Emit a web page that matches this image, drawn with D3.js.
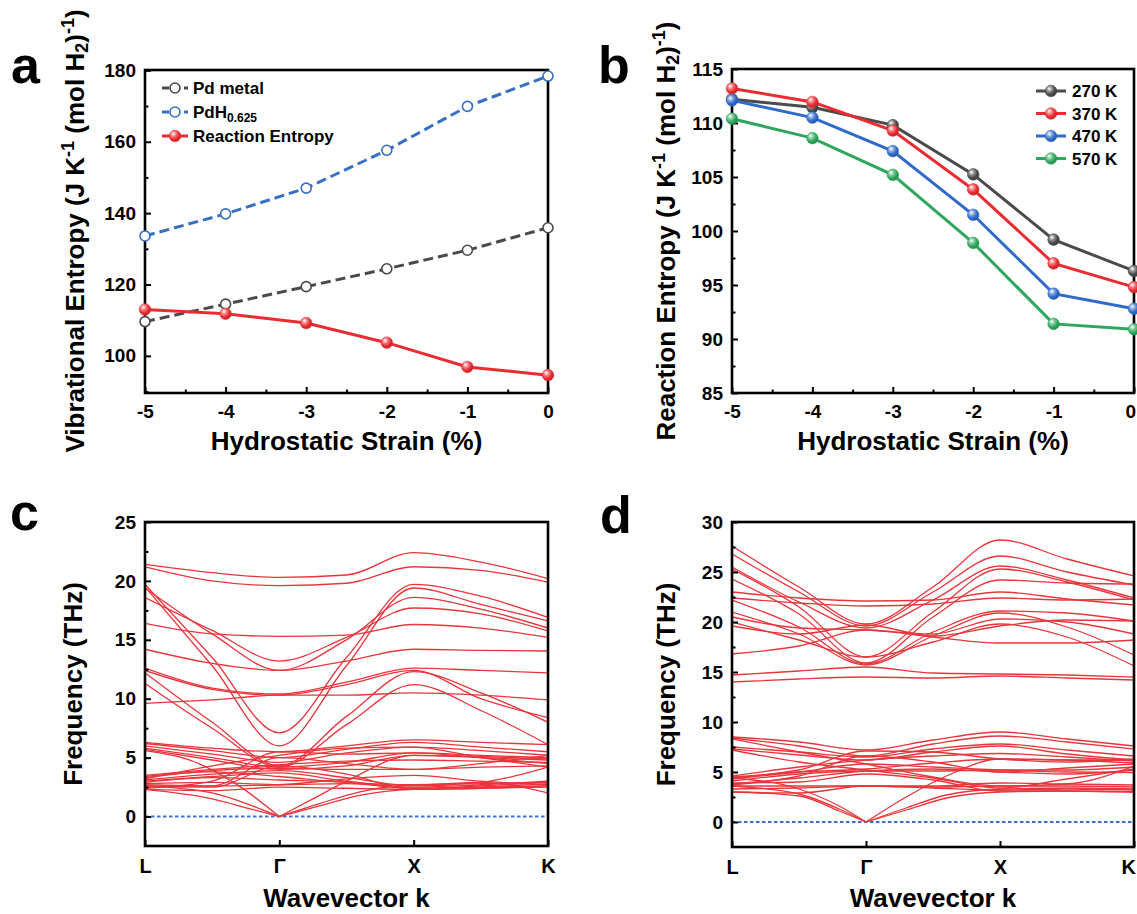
<!DOCTYPE html>
<html><head><meta charset="utf-8">
<script src="https://cdn.jsdelivr.net/npm/d3@7"></script>
<style>
body{margin:0;background:#fff}
svg{display:block}
text{font-family:"Liberation Sans",Arial,Helvetica,sans-serif;font-weight:bold;fill:#000}
</style>
</head><body>
<svg id="chart" width="1137" height="914"></svg>
<script>
// ---------------- DATA ----------------
const strain = [-5, -4, -3, -2, -1, 0];
const strainTicks = [-5, -4, -3, -2, -1, 0];
// panel a
const pdMetal = [109.6, 114.5, 119.4, 124.4, 129.6, 135.9];
const pdH = [133.6, 139.8, 147.0, 157.6, 169.9, 178.4];
const reactionEntropy = [113.0, 111.8, 109.2, 103.7, 96.9, 94.6];
const aYTicks = [100, 120, 140, 160, 180];
const aLegend = ["Pd metal", "PdH", "Reaction Entropy"];
// panel b
const tempLabels = ["270 K", "370 K", "470 K", "570 K"];
const s270 = [112.2, 111.45, 109.8, 105.24, 99.2, 96.3];
const s370 = [113.2, 111.95, 109.3, 103.85, 97.0, 94.8];
const s470 = [112.1, 110.5, 107.4, 101.5, 94.2, 92.8];
const s570 = [110.4, 108.6, 105.2, 98.9, 91.4, 90.9];
const bYTicks = [85, 90, 95, 100, 105, 110, 115];
// panels c, d (phonon bands)
const kLabels = ["L", "\u0393", "X", "K"];
const kNodes = [0, 0.5, 1, 1.5, 2, 2.5, 3];
const cYTicks = [0, 5, 10, 15, 20, 25];
const dYTicks = [0, 5, 10, 15, 20, 25, 30];
const bandsC = [
  [21.4, 20.7, 20.3, 20.5, 22.4, 21.6, 20.2],
  [21.2, 20.0, 19.6, 19.8, 21.2, 20.9, 19.9],
  [19.7, 13.5, 7.1, 13.5, 19.7, 18.7, 16.9],
  [19.5, 12.8, 6.0, 12.8, 19.4, 18.0, 16.6],
  [19.4, 15.5, 12.4, 15.0, 18.6, 17.6, 16.0],
  [18.6, 15.8, 13.2, 15.2, 17.7, 17.2, 15.75],
  [16.4, 15.5, 15.3, 15.4, 16.3, 16.0, 15.2],
  [14.2, 13.0, 12.4, 13.2, 14.2, 14.1, 14.05],
  [12.6, 10.9, 10.4, 11.4, 12.6, 12.4, 12.2],
  [12.4, 10.8, 10.3, 11.2, 12.4, 10.0, 8.4],
  [12.2, 8.0, 4.3, 8.5, 12.3, 10.5, 8.0],
  [11.3, 7.5, 4.2, 7.8, 11.2, 9.0, 6.1],
  [9.6, 9.9, 10.3, 10.3, 10.5, 10.3, 9.9],
  [6.3, 5.8, 5.5, 6.0, 6.5, 6.3, 6.1],
  [6.2, 5.6, 5.0, 5.7, 6.3, 5.9, 5.5],
  [6.0, 5.3, 4.6, 5.4, 5.9, 5.6, 5.2],
  [5.8, 5.0, 4.2, 4.6, 5.4, 5.2, 5.0],
  [5.7, 4.8, 4.0, 4.3, 5.2, 5.0, 4.8],
  [3.5, 4.0, 4.4, 4.7, 4.8, 4.7, 4.6],
  [3.3, 3.9, 4.1, 4.0, 4.0, 4.2, 4.3],
  [3.1, 3.6, 3.9, 3.3, 2.6, 2.9, 4.2],
  [3.0, 3.4, 3.7, 3.0, 2.5, 2.7, 3.0],
  [2.9, 3.3, 3.1, 2.9, 2.4, 2.6, 2.9],
  [2.8, 2.9, 2.7, 2.8, 2.4, 2.5, 2.8],
  [2.7, 2.6, 2.7, 3.2, 3.5, 3.0, 2.7],
  [2.6, 2.5, 4.3, 3.6, 2.3, 2.5, 2.6],
  [2.5, 2.6, 5.0, 4.5, 4.0, 4.5, 5.2],
  [2.4, 3.0, 5.5, 5.3, 5.4, 5.0, 4.5],
  [2.3, 2.2, 2.5, 2.4, 2.3, 2.4, 2.5],
  [3.4, 3.8, 3.4, 2.9, 2.7, 2.9, 2.0],
  [3.2, 4.3, 5.2, 5.8, 5.9, 5.0, 4.2]
];
const acousticC = [
  [[0, 2.3], [0.5, 1.5], [0.8, 0.6], [1, 0]],
  [[0, 2.6], [0.5, 2.0], [0.8, 0.9], [1, 0]],
  [[0, 5.6], [0.4, 4.5], [0.7, 2.6], [1, 0]],
  [[1, 0], [1.3, 0.9], [1.6, 1.8], [2, 2.3], [2.5, 2.4], [3, 2.6]],
  [[1, 0], [1.3, 1.1], [1.6, 2.1], [2, 2.7], [2.5, 2.8], [3, 2.9]],
  [[1, 0], [1.25, 1.5], [1.5, 3.0], [2, 5.2], [2.5, 5.1], [3, 4.9]]
];
const bandsD = [
  [27.6, 23.5, 19.8, 23.5, 28.2, 26.3, 24.6],
  [26.8, 23.0, 19.6, 23.0, 26.6, 25.0, 23.7],
  [25.5, 22.0, 19.4, 22.2, 25.6, 24.2, 22.4],
  [25.3, 21.5, 16.5, 21.0, 25.3, 24.0, 22.2],
  [24.3, 20.8, 15.9, 20.5, 24.2, 23.9, 23.8],
  [23.0, 22.4, 22.1, 22.2, 23.0, 22.3, 21.7],
  [22.4, 21.9, 21.6, 21.8, 22.4, 22.2, 22.3],
  [22.2, 19.5, 15.8, 19.0, 21.1, 20.9, 20.1],
  [21.0, 18.8, 15.7, 18.6, 20.9, 19.5, 16.7],
  [20.5, 19.4, 19.2, 18.8, 20.3, 20.0, 18.8],
  [20.0, 18.2, 16.5, 18.0, 19.8, 18.5, 15.6],
  [19.6, 18.8, 19.7, 18.6, 19.6, 20.2, 20.1],
  [16.8, 17.6, 19.2, 18.5, 17.9, 17.9, 18.2],
  [14.7, 15.1, 15.5, 14.9, 14.8, 14.7, 14.5],
  [14.0, 14.3, 14.5, 14.4, 14.6, 14.4, 14.2],
  [8.5, 8.0, 7.2, 8.2, 9.0, 8.3, 7.6],
  [8.4, 7.6, 6.6, 7.8, 8.6, 8.0, 7.3],
  [7.5, 7.0, 6.5, 7.3, 7.8, 7.2, 6.6],
  [7.3, 6.7, 6.2, 7.0, 7.6, 6.8, 6.2],
  [8.3, 7.0, 5.8, 4.5, 3.6, 3.8, 5.6],
  [7.2, 6.0, 5.2, 4.4, 3.4, 4.3, 5.3],
  [4.6, 5.5, 6.2, 6.6, 6.85, 6.5, 6.1],
  [4.4, 5.0, 5.3, 5.9, 6.3, 6.2, 5.9],
  [4.1, 4.8, 5.1, 5.1, 5.2, 5.2, 5.5],
  [3.8, 4.4, 5.1, 5.3, 5.0, 4.8, 5.2],
  [3.6, 3.6, 3.6, 3.6, 3.9, 3.8, 3.7],
  [3.3, 3.4, 3.6, 3.5, 3.6, 3.6, 3.5],
  [3.0, 2.9, 3.6, 3.4, 3.2, 3.3, 3.2],
  [4.3, 5.0, 5.8, 5.5, 5.2, 5.0, 4.95],
  [3.9, 4.0, 4.8, 4.2, 3.1, 3.1, 3.0],
  [3.7, 4.6, 6.6, 6.0, 5.0, 5.4, 5.8],
  [4.5, 5.2, 7.1, 7.0, 6.3, 6.0, 6.3]
];
const acousticD = [
  [[0, 3.6], [0.5, 2.8], [0.8, 1.3], [1, 0]],
  [[0, 3.0], [0.5, 2.6], [0.8, 1.1], [1, 0]],
  [[0, 4.4], [0.5, 3.3], [0.8, 1.6], [1, 0]],
  [[1, 0], [1.3, 1.2], [1.6, 2.4], [2, 3.0], [2.5, 3.1], [3, 3.0]],
  [[1, 0], [1.3, 1.4], [1.6, 2.7], [2, 3.3], [2.5, 3.4], [3, 3.3]],
  [[1, 0], [1.3, 2.5], [1.6, 4.6], [2, 6.3], [2.5, 6.2], [3, 6.2]]
];

// ---------------- STYLE ----------------
const COL = {gray: "#4a4a4a", blue: "#3570c4", red: "#ea2b31", blue2: "#2f6acb", green: "#2ea75c", band: "#e8353b", zero: "#3d6fc8"};
const FONT_TICK = 19, FONT_TITLE = 26, FONT_LETTER = 52;
const W = 1137;

const svg = d3.select("#chart");
const defs = svg.append("defs");

function ballGradient(id, color) {
  const g = defs.append("radialGradient").attr("id", id)
    .attr("cx", "38%").attr("cy", "35%").attr("r", "65%").attr("fx", "35%").attr("fy", "30%");
  g.append("stop").attr("offset", "0%").attr("stop-color", "#ffffff");
  g.append("stop").attr("offset", "35%").attr("stop-color", d3.interpolateRgb("#ffffff", color)(0.6));
  g.append("stop").attr("offset", "70%").attr("stop-color", color);
  g.append("stop").attr("offset", "100%").attr("stop-color", d3.color(color).darker(0.6));
}
ballGradient("g-red", COL.red);
ballGradient("g-gray", COL.gray);
ballGradient("g-blue", COL.blue2);
ballGradient("g-green", COL.green);

function frame(g, b) {
  g.append("rect").attr("x", b.x0).attr("y", b.y0).attr("width", b.x1 - b.x0).attr("height", b.y1 - b.y0)
    .attr("fill", "none").attr("stroke", "#000").attr("stroke-width", 2.6);
}
function styleAxis(sel) {
  sel.select(".domain").remove();
  sel.selectAll(".tick line").attr("stroke", "#000").attr("stroke-width", 2);
  sel.selectAll(".tick text").attr("font-size", FONT_TICK + "px").attr("fill", "#000")
     .style("font-family", '"Liberation Sans",Arial,sans-serif').style("font-weight", "bold");
}
// keep the right-most tick label inside the page
function fitRight(sel) {
  sel.selectAll(".tick").each(function() {
    const tr = this.getAttribute("transform");
    const xx = +tr.match(/translate\(([-\d.]+)/)[1];
    const t = d3.select(this).select("text");
    if (!t.empty() && xx > W - 8) t.attr("text-anchor", "end").attr("x", W - 1 - xx);
  });
}
function yAxes(g, y, b, major, minor) {
  g.append("g").attr("transform", `translate(${b.x0},0)`)
    .call(d3.axisLeft(y).tickValues(major).tickSize(-6).tickPadding(9)).call(styleAxis);
  g.append("g").attr("transform", `translate(${b.x0},0)`)
    .call(d3.axisLeft(y).tickValues(minor).tickSize(-3.5).tickFormat("")).call(styleAxis);
}
function xAxes(g, x, b, major, minor, fmt, pad, fs) {
  const ax = d3.axisBottom(x).tickValues(major).tickSize(-6).tickPadding(pad).tickFormat(fmt);
  const a = g.append("g").attr("transform", `translate(0,${b.y1})`).call(ax).call(styleAxis);
  if (fs) a.selectAll(".tick text").attr("font-size", fs + "px");
  a.call(fitRight);
  if (minor.length)
    g.append("g").attr("transform", `translate(0,${b.y1})`)
      .call(d3.axisBottom(x).tickValues(minor).tickSize(-3.5).tickFormat("")).call(styleAxis);
}
function yTitle(g, cx, cy, parts) {
  const t = g.append("text").attr("transform", `translate(${cx},${cy}) rotate(-90)`)
    .attr("text-anchor", "middle").attr("dy", "0.36em").attr("font-size", FONT_TITLE + "px");
  parts.forEach(p => {
    const s = t.append("tspan").text(p.t);
    if (p.sup) s.attr("font-size", "18px").attr("baseline-shift", "55%");
    if (p.sub) s.attr("font-size", "18px").attr("baseline-shift", "-22%");
  });
}
function xTitle(g, cx, y, txt) {
  g.append("text").attr("x", cx).attr("y", y).attr("text-anchor", "middle")
    .attr("font-size", FONT_TITLE + "px").text(txt);
}
function letter(g, x, y, l) {
  g.append("text").attr("x", x).attr("y", y).attr("font-size", FONT_LETTER + "px").text(l);
}
const entropyTitle = (first) => [
  {t: first + " (J K"}, {t: "-1", sup: true}, {t: " (mol H"}, {t: "2", sub: true}, {t: ")"}, {t: "-1", sup: true}, {t: ")"}
];
const hyphenFmt = d => String(d);

// ---------------- PANEL A ----------------
{
  const b = {x0: 145, x1: 548, y0: 70, y1: 393};
  const g = svg.append("g");
  const x = d3.scaleLinear().domain([-5, 0]).range([b.x0, b.x1]);
  const y = d3.scaleLinear().domain([89.6, 180.1]).range([b.y1, b.y0]);
  const line = d3.line().x((d, i) => x(strain[i])).y(d => y(d));
  frame(g, b);
  yAxes(g, y, b, aYTicks, [90, 110, 130, 150, 170]);
  xAxes(g, x, b, strainTicks, [-4.5, -3.5, -2.5, -1.5, -0.5], hyphenFmt, 12);
  g.append("path").datum(pdMetal).attr("d", line).attr("fill", "none").attr("stroke", COL.gray)
    .attr("stroke-width", 3).attr("stroke-dasharray", "10,5");
  g.append("path").datum(pdH).attr("d", line).attr("fill", "none").attr("stroke", COL.blue)
    .attr("stroke-width", 3).attr("stroke-dasharray", "10,5");
  g.append("path").datum(reactionEntropy).attr("d", line).attr("fill", "none").attr("stroke", COL.red)
    .attr("stroke-width", 3);
  const open = (arr, c) => g.append("g").selectAll("circle").data(arr).join("circle")
    .attr("cx", (d, i) => x(strain[i])).attr("cy", d => y(d)).attr("r", 5)
    .attr("fill", "#fff").attr("stroke", c).attr("stroke-width", 1.6);
  open(pdMetal, COL.gray);
  open(pdH, COL.blue);
  g.append("g").selectAll("circle").data(reactionEntropy).join("circle")
    .attr("cx", (d, i) => x(strain[i])).attr("cy", d => y(d)).attr("r", 5.8)
    .attr("fill", "url(#g-red)").attr("stroke", COL.red).attr("stroke-width", 0.6);
  // legend
  const lg = [
    {c: COL.gray, dash: "7,4", open: true},
    {c: COL.blue, dash: "7,4", open: true},
    {c: COL.red, dash: null, open: false}
  ];
  lg.forEach((d, i) => {
    const ly = 88 + i * 24;
    g.append("line").attr("x1", 162).attr("x2", 188).attr("y1", ly).attr("y2", ly)
      .attr("stroke", d.c).attr("stroke-width", 3).attr("stroke-dasharray", d.dash);
    g.append("circle").attr("cx", 175).attr("cy", ly).attr("r", d.open ? 5 : 5.8)
      .attr("fill", d.open ? "#fff" : "url(#g-red)").attr("stroke", d.c).attr("stroke-width", d.open ? 1.6 : 0.6);
    const t = g.append("text").attr("x", 193).attr("y", ly + 6).attr("font-size", "17px");
    if (i === 1) {
      t.append("tspan").text(aLegend[i]);
      t.append("tspan").text("0.625").attr("font-size", "12px").attr("baseline-shift", "-30%");
    } else t.text(aLegend[i]);
  });
  yTitle(g, 75, 231, entropyTitle("Vibrational Entropy"));
  xTitle(g, 346.5, 450, "Hydrostatic Strain (%)");
  letter(g, 11, 83, "a");
}

// ---------------- PANEL B ----------------
{
  const b = {x0: 732, x1: 1134, y0: 69, y1: 393};
  const g = svg.append("g");
  const x = d3.scaleLinear().domain([-5, 0]).range([b.x0, b.x1]);
  const y = d3.scaleLinear().domain([85, 115]).range([b.y1, b.y0]);
  const line = d3.line().x((d, i) => x(strain[i])).y(d => y(d));
  frame(g, b);
  yAxes(g, y, b, bYTicks, [87.5, 92.5, 97.5, 102.5, 107.5, 112.5]);
  xAxes(g, x, b, strainTicks, [-4.5, -3.5, -2.5, -1.5, -0.5], hyphenFmt, 12);
  const series = [
    {v: s270, c: COL.gray, gid: "g-gray"},
    {v: s370, c: COL.red, gid: "g-red"},
    {v: s470, c: COL.blue2, gid: "g-blue"},
    {v: s570, c: COL.green, gid: "g-green"}
  ];
  series.forEach(s => g.append("path").datum(s.v).attr("d", line).attr("fill", "none")
    .attr("stroke", s.c).attr("stroke-width", 3));
  series.forEach(s => g.append("g").selectAll("circle").data(s.v).join("circle")
    .attr("cx", (d, i) => x(strain[i])).attr("cy", d => y(d)).attr("r", 5.8)
    .attr("fill", `url(#${s.gid})`).attr("stroke", s.c).attr("stroke-width", 0.6));
  series.forEach((s, i) => {
    const ly = 91 + i * 22.5;
    g.append("line").attr("x1", 1036).attr("x2", 1066).attr("y1", ly).attr("y2", ly)
      .attr("stroke", s.c).attr("stroke-width", 3);
    g.append("circle").attr("cx", 1051).attr("cy", ly).attr("r", 5.8)
      .attr("fill", `url(#${s.gid})`).attr("stroke", s.c).attr("stroke-width", 0.6);
    g.append("text").attr("x", 1072).attr("y", ly + 6).attr("font-size", "17px").text(tempLabels[i]);
  });
  yTitle(g, 666, 231, entropyTitle("Reaction Entropy"));
  xTitle(g, 933, 450, "Hydrostatic Strain (%)");
  letter(g, 598, 83, "b");
}

// ---------------- PANELS C, D ----------------
function bandPanel(b, ydom, major, minor, bands, acoustic, titleX, lx, ly, L, id) {
  const g = svg.append("g");
  const x = d3.scaleLinear().domain([0, 3]).range([b.x0, b.x1]);
  const y = d3.scaleLinear().domain(ydom).range([b.y1, b.y0]);
  defs.append("clipPath").attr("id", id).append("rect")
    .attr("x", b.x0).attr("y", b.y0).attr("width", b.x1 - b.x0).attr("height", b.y1 - b.y0);
  const line = d3.line().x(d => x(d[0])).y(d => y(d[1])).curve(d3.curveMonotoneX);
  const gl = g.append("g").attr("clip-path", `url(#${id})`);
  gl.append("line").attr("x1", b.x0).attr("x2", b.x1).attr("y1", y(0)).attr("y2", y(0))
    .attr("stroke", COL.zero).attr("stroke-width", 2).attr("stroke-dasharray", "3.5,2.5");
  const paths = bands.map(v => v.map((f, i) => [kNodes[i], f])).concat(acoustic);
  gl.selectAll("path.band").data(paths).join("path").attr("class", "band")
    .attr("d", line).attr("fill", "none").attr("stroke", COL.band).attr("stroke-width", 1.3);
  frame(g, b);
  yAxes(g, y, b, major, minor);
  xAxes(g, x, b, [0, 1, 2, 3], [], (d, i) => kLabels[i], 13, 20);
  yTitle(g, titleX, (b.y0 + b.y1) / 2, [{t: "Frequency (THz)"}]);
  xTitle(g, (b.x0 + b.x1) / 2, 907, "Wavevector k");
  letter(g, lx, ly, L);
}
bandPanel({x0: 145, x1: 548, y0: 522, y1: 846}, [-2.5, 25], cYTicks, [2.5, 7.5, 12.5, 17.5, 22.5],
  bandsC, acousticC, 73, 10, 530, "c", "clipC");
bandPanel({x0: 732, x1: 1134, y0: 522, y1: 847}, [-2.5, 30], dYTicks, [2.5, 7.5, 12.5, 17.5, 22.5, 27.5],
  bandsD, acousticD, 666, 600, 533, "d", "clipD");
</script>
</body></html>
